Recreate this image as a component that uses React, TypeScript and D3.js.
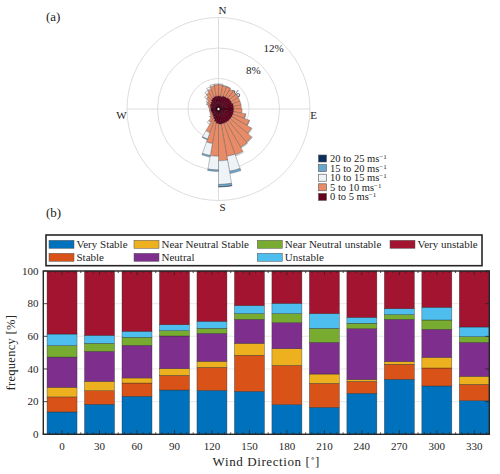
import React from "react";
import * as d3 from "d3";

// ---------- (a) wind rose data: 36 sectors of 10°, percent of time ----------
const roseDirections = d3.range(0, 360, 10);
const speedClasses = ["0 to 5", "5 to 10", "10 to 15", "15 to 20", "20 to 25"];
const speed0to5 = [1.7,1.7,1.8,1.8,1.9,1.9,1.9,2.0,2.0,2.0,2.0,2.0,2.0,2.0,2.0,2.0,2.0,2.0,1.9,1.7,1.4,1.2,1.1,1.0,1.0,1.0,1.0,1.0,1.1,1.2,1.2,1.3,1.5,1.6,1.7,1.7];
const speed5to10 = [1.5,1.4,1.3,1.2,1.1,1.1,1.1,1.0,1.0,1.1,1.6,2.3,3.0,3.7,3.8,4.4,4.3,4.8,4.3,2.9,1.9,0.8,0.4,0.3,0.2,0.2,0.2,0.2,0.3,0.4,0.5,0.8,1.0,1.2,1.4,1.5];
const speed10to15 = [0.1,0.05,0.05,0,0,0,0,0,0,0,0.05,0.05,0.1,0.1,0.1,0.15,2.0,3.1,1.8,1.6,0.9,0.3,0.05,0,0,0,0,0,0,0.1,0.2,0.3,0.3,0.3,0.2,0.1];
const speed15to20 = [0,0,0,0,0,0,0,0,0,0,0,0,0,0,0,0,0.3,0.3,0.2,0.2,0.1,0,0,0,0,0,0,0,0,0,0,0,0,0,0,0];
const speed20to25 = [0,0,0,0,0,0,0,0,0,0,0,0,0,0,0,0,0,0.03,0,0,0,0,0,0,0,0,0,0,0,0,0,0,0,0,0,0];
const speedColors = ["#67001F", "#EA8B68", "#EEF3F7", "#6AA7CE", "#0B2F5E"];
const ringTicks = [4, 8, 12];

// ---------- (b) stability classes per wind direction (%) ----------
const barDirections = [0, 30, 60, 90, 120, 150, 180, 210, 240, 270, 300, 330];
const stabilityClasses = ["Very Stable", "Stable", "Near Neutral Stable", "Neutral", "Near Neutral unstable", "Unstable", "Very unstable"];
const veryStable = [13.7, 18.4, 23.3, 27.1, 26.9, 26.3, 18.2, 16.5, 25.1, 33.7, 29.6, 20.6];
const stable = [9.2, 8.3, 8.1, 9.0, 14.1, 22.1, 24.0, 14.7, 7.3, 9.2, 11.0, 10.0];
const nearNeutralStable = [5.9, 5.7, 3.1, 4.1, 3.7, 7.3, 10.2, 5.7, 1.1, 1.6, 6.5, 4.9];
const neutral = [18.5, 18.4, 20.0, 20.0, 17.1, 14.7, 16.0, 19.4, 31.2, 25.9, 17.2, 20.8];
const nearNeutralUnstable = [7.0, 4.9, 4.9, 3.3, 3.1, 3.5, 5.5, 8.6, 3.3, 2.9, 5.7, 3.5];
const unstable = [7.1, 4.9, 3.7, 3.6, 4.3, 4.9, 6.3, 9.0, 3.6, 3.6, 7.8, 5.9];
const veryUnstable = [38.6, 39.4, 36.9, 32.9, 30.8, 21.2, 19.8, 26.1, 28.4, 23.1, 22.2, 34.3];
const stabilityColors = ["#0072BD", "#D95319", "#EDB120", "#7E2F8E", "#77AC30", "#4DBEEE", "#A2142F"];
const yTicks = [0, 20, 40, 60, 80, 100];

const FONT = "Liberation Serif, Times New Roman, Times, DejaVu Serif, serif";

function WindRose() {
  const cx = 218.5, cy = 109;
  const r = d3.scaleLinear().domain([0, 12]).range([0, 91.5]);
  const series = [speed0to5, speed5to10, speed10to15, speed15to20, speed20to25];
  const arc = d3.arc<any>();
  const toRad = (d: number) => (d * Math.PI) / 180;
  const petals: any[] = [];
  roseDirections.forEach((dir, i) => {
    let acc = 0;
    series.forEach((s, k) => {
      const v = s[i];
      if (v <= 0) return;
      const inner = acc;
      acc += v;
      petals.push({ dir, k, inner, outer: acc });
    });
  });
  const labelAngle = toRad(42);
  return (
    <g>
      {ringTicks.map((t) => (
        <circle key={t} cx={cx} cy={cy} r={r(t)} fill="none" stroke="#d4d4d4" strokeWidth={0.8} />
      ))}
      <line x1={cx} x2={cx} y1={cy - r(12)} y2={cy + r(12)} stroke="#d4d4d4" strokeWidth={0.8} />
      <line x1={cx - r(12)} x2={cx + r(12)} y1={cy} y2={cy} stroke="#d4d4d4" strokeWidth={0.8} />
      {ringTicks.map((t) => (
        <text key={"l" + t} x={cx + (r(t) - 9) * Math.sin(labelAngle)} y={cy - (r(t) - 9) * Math.cos(labelAngle) + 4}
          textAnchor="middle" fontSize={11} fontFamily={FONT} fill="#222">{t}%</text>
      ))}
      {petals.map((p, i) => (
        <path key={i}
          d={arc({ innerRadius: r(p.inner), outerRadius: r(p.outer), startAngle: toRad(p.dir), endAngle: toRad(p.dir + 10) }) as string}
          transform={`translate(${cx},${cy})`}
          fill={speedColors[p.k]}
          stroke={p.k === 0 ? "#2a0010" : "#4a4a4a"}
          strokeWidth={p.k === 0 ? 0.4 : 0.35} />
      ))}
      <circle cx={cx} cy={cy} r={1.6} fill="#fff" stroke="#000" strokeWidth={0.7} />
      <text x={222.5} y={14} textAnchor="middle" fontSize={11} fontFamily={FONT} fill="#222">N</text>
      <text x={222.5} y={211} textAnchor="middle" fontSize={11} fontFamily={FONT} fill="#222">S</text>
      <text x={121.5} y={119} textAnchor="middle" fontSize={11} fontFamily={FONT} fill="#222">W</text>
      <text x={313.5} y={119} textAnchor="middle" fontSize={11} fontFamily={FONT} fill="#222">E</text>
      {speedClasses.slice().reverse().map((lab, i) => {
        const k = speedClasses.length - 1 - i;
        const yy = 158.5 + i * 9.6;
        return (
          <g key={lab}>
            <rect x={318.5} y={yy - 3.5} width={8} height={7} fill={speedColors[k]} stroke="#555" strokeWidth={0.6} />
            <text x={330} y={yy + 3.5} fontSize={10.5} fontFamily={FONT} fill="#222">
              {lab} ms<tspan dy={-3} fontSize={7}>−1</tspan>
            </text>
          </g>
        );
      })}
    </g>
  );
}

function StabilityBars() {
  const x = d3.scaleLinear().domain([-15, 342]).range([43.3, 489.3]);
  const y = d3.scaleLinear().domain([0, 100]).range([434.3, 271]);
  const rows = barDirections.map((d, i) => ({
    dir: d,
    s0: veryStable[i], s1: stable[i], s2: nearNeutralStable[i], s3: neutral[i],
    s4: nearNeutralUnstable[i], s5: unstable[i], s6: veryUnstable[i],
  }));
  const keys = ["s0", "s1", "s2", "s3", "s4", "s5", "s6"];
  const stacked = d3.stack<any>().keys(keys)(rows);
  const bw = x(24) - x(0);
  const minorTicks = d3.range(-15, 342.1, 5);
  const [x0, x1] = x.range();
  const [yb, yt] = y.range();
  const legendCols = [
    { x: 49, items: [0, 1] },
    { x: 134, items: [2, 3] },
    { x: 257.3, items: [4, 5] },
    { x: 390, items: [6] },
  ];
  return (
    <g>
      {yTicks.slice(1, -1).map((t) => (
        <line key={t} x1={x0} x2={x1} y1={y(t)} y2={y(t)} stroke="#e3e3e3" strokeWidth={0.8} />
      ))}
      {stacked.map((layer, k) => (
        <g key={k}>
          {layer.map((d: any, i: number) => (
            <rect key={i} x={x(barDirections[i]) - bw / 2} width={bw} y={y(d[1])} height={y(d[0]) - y(d[1])}
              fill={stabilityColors[k]} stroke="#262626" strokeOpacity={0.7} strokeWidth={0.5} />
          ))}
        </g>
      ))}
      {minorTicks.map((t) => {
        const major = barDirections.includes(Math.round(t));
        const len = major ? 4 : 2;
        return (
          <g key={t}>
            <line x1={x(t)} x2={x(t)} y1={yb} y2={yb - len} stroke="#262626" strokeWidth={0.8} />
            <line x1={x(t)} x2={x(t)} y1={yt} y2={yt + len} stroke="#262626" strokeWidth={0.8} />
          </g>
        );
      })}
      {yTicks.map((t) => (
        <g key={t}>
          <line x1={x0} x2={x0 + 4} y1={y(t)} y2={y(t)} stroke="#262626" strokeWidth={0.8} />
          <line x1={x1} x2={x1 - 4} y1={y(t)} y2={y(t)} stroke="#262626" strokeWidth={0.8} />
          <text x={38.5} y={y(t) + 3.8} textAnchor="end" fontSize={11} fontFamily={FONT} fill="#262626">{t}</text>
        </g>
      ))}
      {barDirections.map((d) => (
        <text key={d} x={x(d)} y={449.5} textAnchor="middle" fontSize={11} fontFamily={FONT} fill="#262626">{d}</text>
      ))}
      <rect x={x0} y={yt} width={x1 - x0} height={yb - yt} fill="none" stroke="#262626" strokeWidth={1.4} />
      <text transform={`translate(15,${(yb + yt) / 2}) rotate(-90)`} textAnchor="middle" fontSize={12.5} fontFamily={FONT}
        fill="#262626" letterSpacing={0.3}>frequency [%]</text>
      <text x={(x0 + x1) / 2} y={466} textAnchor="middle" fontSize={13} fontFamily={FONT} fill="#262626" letterSpacing={0.6}>
        Wind Direction [<tspan dy={-5} fontSize={8}>∘</tspan><tspan dy={5}>]</tspan>
      </text>
      <rect x={46} y={235} width={436} height={30.7} fill="#fff" stroke="#262626" strokeWidth={1.6} />
      {legendCols.map((c) =>
        c.items.map((k, j) => {
          const yy = 244.3 + j * 13;
          return (
            <g key={k}>
              <rect x={c.x} y={yy - 4} width={25} height={8} fill={stabilityColors[k]} stroke="#555" strokeWidth={0.5} />
              <text x={c.x + 27.5} y={yy + 3.8} fontSize={11} fontFamily={FONT} fill="#262626">{stabilityClasses[k]}</text>
            </g>
          );
        })
      )}
    </g>
  );
}

export default function App() {
  return (
    <svg width={500} height={474} viewBox="0 0 500 474"
      style={{ position: "absolute", left: 0, top: 0, background: "#fff" }}>
      <rect width={500} height={474} fill="#fff" />
      <text x={46} y={21} fontSize={13} fontFamily={FONT} fill="#222">(a)</text>
      <text x={46} y={217} fontSize={13} fontFamily={FONT} fill="#222">(b)</text>
      <WindRose />
      <StabilityBars />
    </svg>
  );
}
